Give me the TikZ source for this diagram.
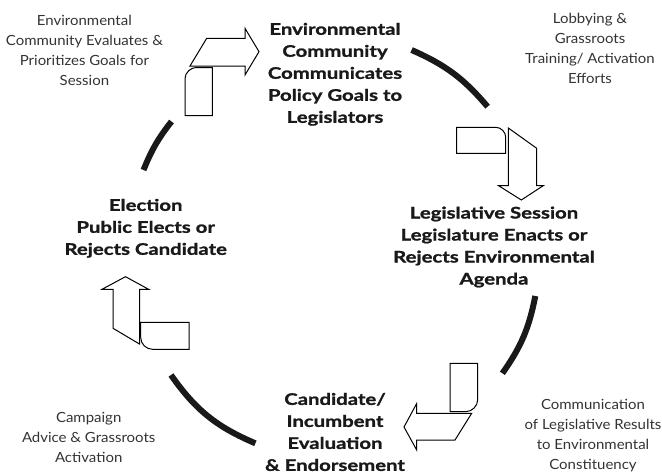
\documentclass[tikz,border=0pt]{standalone}
\usepackage{fontspec}
\setmainfont{Lato}
\newfontfamily\boldfont[FakeStretch=1.27,FakeBold=1.3]{Lato}
\newfontfamily\lightfont[FakeStretch=1.07]{Lato}
\tikzset{
  ring/.style={line width=6pt, draw=black!90, line cap=butt},
  bigtxt/.style={align=center, font=\boldfont\bfseries\fontsize{16}{22}\selectfont, text=black!90, inner sep=0pt},
  smalltxt/.style={align=center, font=\lightfont\fontsize{14}{20}\selectfont, text=black!80, inner sep=0pt},
  blk/.style={draw=black, fill=white, line width=1pt, line join=miter},
}
\begin{document}
\begin{tikzpicture}[x=1pt,y=-1pt]
\useasboundingbox (0,0) rectangle (662,474);

% ring segments
\coordinate (a1s) at (411.6,50);   \coordinate (a1e) at (487.6,106.7);
\coordinate (a2s) at (535.3,296);  \coordinate (a2e) at (502.4,373.3);
\coordinate (a3s) at (255.4,443.3); \coordinate (a3e) at (171,375);
\coordinate (a4s) at (143.5,170);  \coordinate (a4e) at (171.5,121.5);
\draw[ring] (a1s) to[bend left=13] (a1e);
\draw[ring] (a2s) to[bend left=12] (a2e);
\draw[ring] (a3s) to[bend left=16] (a3e);
\draw[ring] (a4s) to[bend left=8] (a4e);

% arrow 1 (top-left, pointing right)
\draw[blk] (212.3,115.7) -- (185,115.7) -- (185,78.5)
  .. controls (185,72.5) and (191,67.5) .. (196,67.5) -- (212.3,67.5) -- cycle;
\draw[blk] (190,66) -- (206.7,38.3) -- (245,38.3) -- (245,28.3) -- (259,51.7)
  -- (245,75) -- (245,66) -- cycle;

% arrow 2 (top-right, pointing down)
\draw[blk] (456.7,127.3) -- (495.7,127.3) .. controls (501,127.3) and (505.7,132) ..
  (505.7,137.3) -- (505.7,153.3) -- (456.7,153.3) -- cycle;
\draw[blk] (508.3,128) -- (536.7,148.3) -- (536.7,185.5) -- (543.5,185.5)
  -- (521.3,200) -- (498.3,185.5) -- (508.3,185.5) -- cycle;

% arrow 3 (bottom-right, pointing left)
\draw[blk] (450,363.3) -- (477.7,363.3) -- (477.7,399.7) .. controls (477.7,406) and
  (472,411.7) .. (465.7,411.7) -- (450,411.7) -- cycle;
\draw[blk] (471.7,413.3) -- (455,440) -- (416.7,440) -- (416.7,450) -- (404,427)
  -- (416.7,403.5) -- (416.7,413.3) -- cycle;

% arrow 4 (left, pointing up)
\draw[blk] (189,322.3) -- (189,349.3) -- (152.7,349.3) .. controls (146,349.3) and
  (140.7,344) .. (140.7,337.3) -- (140.7,322.3) -- cycle;
\draw[blk] (139.5,344) -- (113,328.3) -- (113,289.3) -- (102,289.3) -- (125.5,276.7)
  -- (148.6,289.3) -- (139.5,289.3) -- cycle;

% stage texts
\node[bigtxt] (comm) at (335,74.3) {Environmental\\Community\\Communicates\\Policy Goals to\\Legislators};
\node[bigtxt] (sess) at (494,247) {Legislative Session\\Legislature Enacts or\\Rejects Environmental\\Agenda};
\node[bigtxt] (cand) at (335,432) {Candidate/\\Incumbent\\Evaluation\\\& Endorsement};
\node[bigtxt] (elec) at (145.7,228.3) {Election\\Public Elects or\\Rejects Candidate};

% side texts
\node[smalltxt] (eval) at (84.4,50) {Environmental\\Community Evaluates \&\\Prioritizes Goals for\\Session};
\node[smalltxt] (lobb) at (590,48.7) {Lobbying \&\\Grassroots\\Training/ Activation\\Efforts};
\node[smalltxt] (camp) at (88.7,437.5) {Campaign\\Advice \& Grassroots\\Activation};
\node[smalltxt] (cres) at (593,436) {Communication\\of Legislative Results\\to Environmental\\Constituency};
\end{tikzpicture}
\end{document}
